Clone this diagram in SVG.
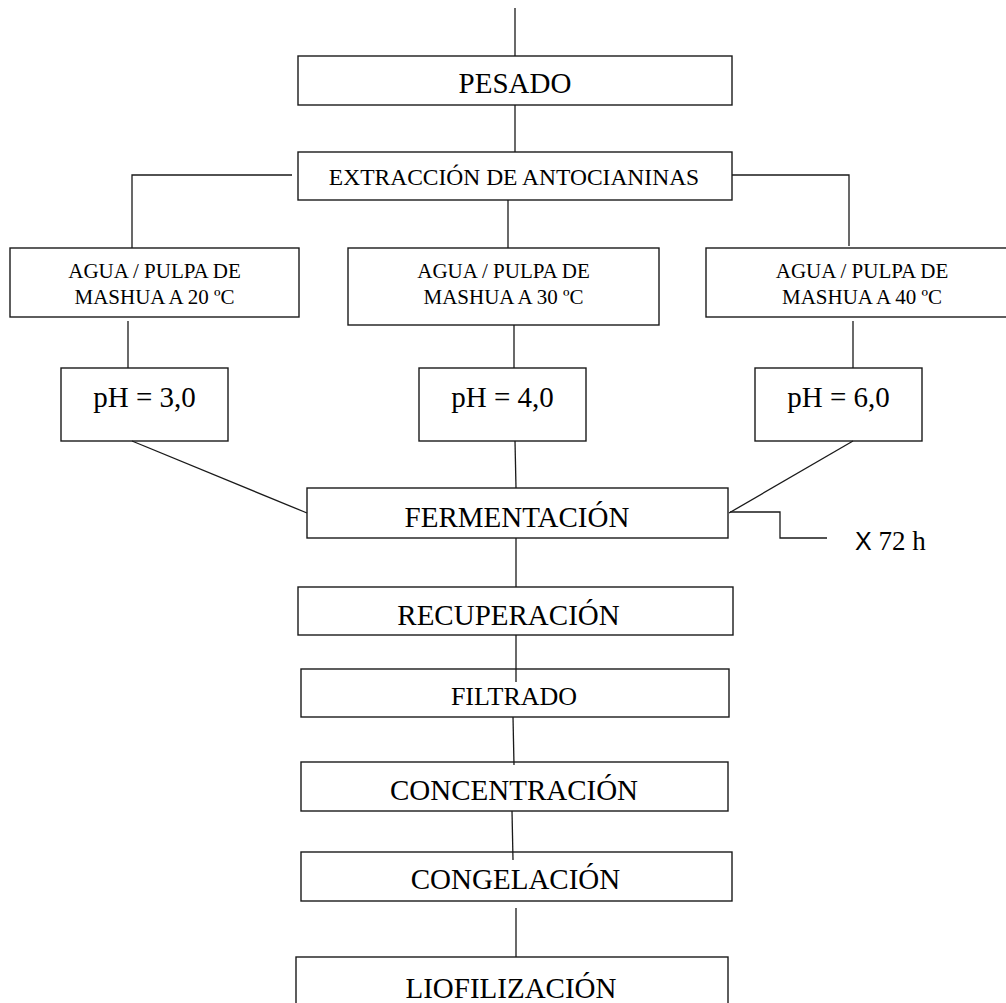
<svg xmlns="http://www.w3.org/2000/svg" width="1006" height="1003" viewBox="0 0 1006 1003">
<style>
.box{fill:#fff;stroke:#1a1a1a;stroke-width:1.4}
.ln{fill:none;stroke:#1a1a1a;stroke-width:1.3}
text{font-family:"Liberation Serif","Times New Roman",serif;fill:#000;text-anchor:middle}
.big{font-size:29px}
.mid{font-size:23.5px}
.sm{font-size:21px}
.flt{font-size:26px}
</style>
<rect width="1006" height="1003" fill="#fff"/>
<g id="pesado"><rect class="box" x="298" y="56" width="434" height="49"/><text class="big" x="515" y="93">PESADO</text></g>
<g id="extraccion"><rect class="box" x="298" y="152" width="434" height="48"/><text class="mid" x="514" y="185">EXTRACCIÓN DE ANTOCIANINAS</text></g>
<g id="agua20"><rect class="box" x="10" y="248" width="289" height="69"/><text class="sm" x="154.5" y="278">AGUA / PULPA DE</text><text class="sm" x="154.5" y="304">MASHUA A 20 ºC</text></g>
<g id="agua30"><rect class="box" x="348" y="248" width="311" height="77"/><text class="sm" x="503.5" y="278">AGUA / PULPA DE</text><text class="sm" x="503.5" y="304">MASHUA A 30 ºC</text></g>
<g id="agua40"><rect class="box" x="706" y="248" width="312" height="69"/><text class="sm" x="862" y="278">AGUA / PULPA DE</text><text class="sm" x="862" y="304">MASHUA A 40 ºC</text></g>
<g id="ph3"><rect class="box" x="61" y="368" width="167" height="73"/><text class="big" x="144.5" y="407">pH = 3,0</text></g>
<g id="ph4"><rect class="box" x="419" y="368" width="167" height="73"/><text class="big" x="502.5" y="407">pH = 4,0</text></g>
<g id="ph6"><rect class="box" x="755" y="368" width="167" height="73"/><text class="big" x="838.5" y="407">pH = 6,0</text></g>
<g id="fermentacion"><rect class="box" x="307" y="488" width="421" height="50"/><text class="big" x="517" y="527">FERMENTACIÓN</text></g>
<g id="tiempo"><text x="855" y="550" style="font-size:27px;text-anchor:start"><tspan style="font-family:'Liberation Sans Narrow','Liberation Sans',sans-serif" font-size="25">X</tspan> 72 h</text></g>
<g id="recuperacion"><rect class="box" x="298" y="587" width="435" height="48"/><text class="big" x="508.5" y="625">RECUPERACIÓN</text></g>
<g id="filtrado"><rect class="box" x="301" y="669" width="428" height="48"/><text class="flt" x="514" y="705">FILTRADO</text></g>
<g id="concentracion"><rect class="box" x="301" y="762" width="427" height="49"/><text class="big" x="514" y="800">CONCENTRACIÓN</text></g>
<g id="congelacion"><rect class="box" x="301" y="852" width="431" height="49"/><text class="big" x="515.5" y="889">CONGELACIÓN</text></g>
<g id="liofilizacion"><rect class="box" x="296" y="957" width="432" height="60"/><text class="big" x="511" y="998">LIOFILIZACIÓN</text></g>
<g id="connectors">
<line class="ln" x1="515" y1="8" x2="515" y2="56"/>
<line class="ln" x1="515" y1="105" x2="515" y2="152"/>
<polyline class="ln" points="292,175 132,175 132,248"/>
<line class="ln" x1="508" y1="200" x2="508" y2="248"/>
<polyline class="ln" points="732,175 849,175 849,246"/>
<line class="ln" x1="128" y1="321" x2="128" y2="368"/>
<line class="ln" x1="514" y1="325" x2="514" y2="368"/>
<line class="ln" x1="853" y1="321" x2="853" y2="368"/>
<line class="ln" x1="132" y1="441" x2="307" y2="513"/>
<line class="ln" x1="515" y1="441" x2="516" y2="488"/>
<line class="ln" x1="853" y1="441" x2="729" y2="513"/>
<polyline class="ln" points="730,512 780,512 780,538 827,538"/>
<line class="ln" x1="516" y1="538" x2="516" y2="587"/>
<line class="ln" x1="516" y1="635" x2="516" y2="682"/>
<line class="ln" x1="513" y1="717" x2="514" y2="765"/>
<line class="ln" x1="512" y1="811" x2="513" y2="860"/>
<line class="ln" x1="516" y1="908" x2="516" y2="957"/>
</g>
</svg>
